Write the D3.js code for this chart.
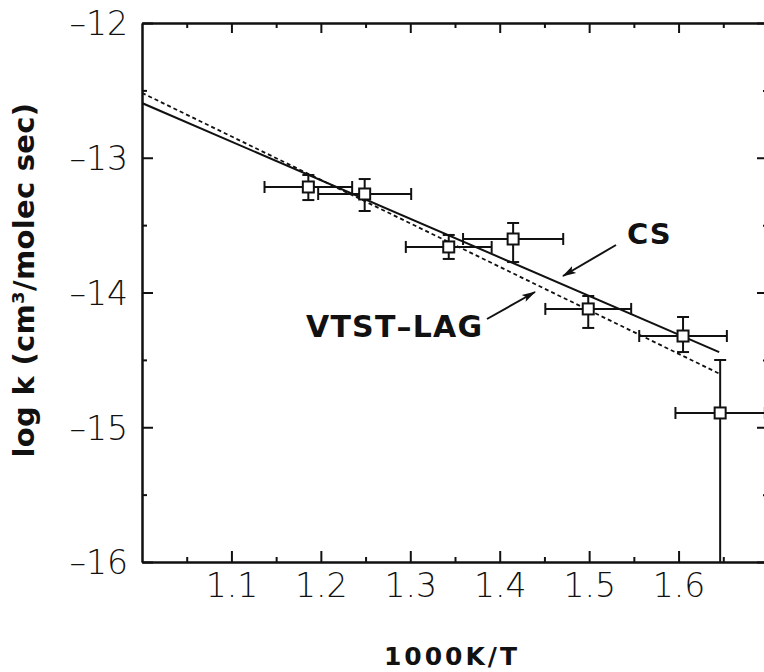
<!DOCTYPE html>
<html>
<head>
<meta charset="utf-8">
<script src="https://cdn.jsdelivr.net/npm/d3@7"></script>
<style>
  body { margin: 0; background: #fff; }
  svg { display: block; }
  .tick-label { font-family: "DejaVu Sans", sans-serif; font-weight: 200; font-size: 33px; }
  .bold { font-family: "DejaVu Sans", sans-serif; font-weight: bold; }
</style>
</head>
<body>
<svg width="764" height="672"></svg>
<script>
// measured points, 1000K/T and log k
var ptX    = [1.186, 1.249, 1.343, 1.415, 1.499, 1.605, 1.6465];
var ptY    = [-13.217, -13.269, -13.662, -13.603, -14.122, -14.323, -14.894];
var ptXerr = [0.049, 0.052, 0.048, 0.056, 0.048, 0.049, 0.05];
var ptYhi  = [-13.128, -13.158, -13.573, -13.484, -14.026, -14.182, -14.501];
var ptYlo  = [-13.314, -13.395, -13.751, -13.774, -14.263, -14.442, -16.3];

// model curves
var csX   = [1.0, 1.6454];
var csY   = [-12.594, -14.442];
var vtstX = [1.0, 1.6465];
var vtstY = [-12.519, -14.605];

var xMajor = [1.1, 1.2, 1.3, 1.4, 1.5, 1.6];
var xTickLabels = ["1.1", "1.2", "1.3", "1.4", "1.5", "1.6"];
var xMinor = [1.05, 1.15, 1.25, 1.35, 1.45, 1.55, 1.65];
var yMajor = [-16, -15, -14, -13, -12];
var yTickLabels = ["\u201316", "\u201315", "\u201314", "\u201313", "\u201312"];
var yMinor = [-15.5, -14.5, -13.5, -12.5];

var svg = d3.select("svg");
var pLeft = 142, pRight = 768, pTop = 23, pBottom = 562;

var x = d3.scaleLinear().domain([1.0, 1.7]).range([pLeft, pRight]);
var y = d3.scaleLinear().domain([-16, -12]).range([pBottom, pTop]);

svg.append("rect").attr("width", 764).attr("height", 672).attr("fill", "#fff");

var defs = svg.append("defs");
defs.append("clipPath").attr("id", "plot")
  .append("rect").attr("x", pLeft).attr("y", pTop)
  .attr("width", pRight - pLeft).attr("height", pBottom - pTop);

defs.append("marker")
    .attr("id", "head")
    .attr("viewBox", "0 0 14 10")
    .attr("refX", 13).attr("refY", 5)
    .attr("markerWidth", 7).attr("markerHeight", 5)
    .attr("markerUnits", "strokeWidth")
    .attr("orient", "auto")
  .append("path").attr("d", "M0,1 L14,5 L0,9 L3,5 Z").attr("fill", "#111");

// axes: major and minor ticks on all four sides, pointing inward
function styleAxis(g) {
  g.select(".domain").attr("stroke", "#111").attr("stroke-width", 2);
  g.selectAll(".tick line").attr("stroke", "#111").attr("stroke-width", 2);
}

var bottomMajor = svg.append("g").attr("transform", "translate(0," + pBottom + ")")
  .call(d3.axisBottom(x).tickValues(xMajor).tickSize(-11).tickSizeOuter(0).tickPadding(12)
    .tickFormat(function(d, i) { return xTickLabels[i]; }));
styleAxis(bottomMajor);
bottomMajor.selectAll("text").attr("class", "tick-label").attr("fill", "#111");

svg.append("g").attr("transform", "translate(0," + pBottom + ")")
  .call(d3.axisBottom(x).tickValues(xMinor).tickSize(-5).tickSizeOuter(0).tickFormat(""))
  .call(styleAxis);

svg.append("g").attr("transform", "translate(0," + pTop + ")")
  .call(d3.axisTop(x).tickValues(xMajor).tickSize(-10).tickSizeOuter(0).tickFormat(""))
  .call(styleAxis);
svg.append("g").attr("transform", "translate(0," + pTop + ")")
  .call(d3.axisTop(x).tickValues(xMinor).tickSize(-5).tickSizeOuter(0).tickFormat(""))
  .call(styleAxis);

var leftMajor = svg.append("g").attr("transform", "translate(" + pLeft + ",0)")
  .call(d3.axisLeft(y).tickValues(yMajor).tickSize(-11).tickSizeOuter(0).tickPadding(14)
    .tickFormat(function(d, i) { return yTickLabels[i]; }));
styleAxis(leftMajor);
leftMajor.selectAll("text").attr("class", "tick-label").attr("fill", "#111").attr("dy", "0.36em");

svg.append("g").attr("transform", "translate(" + pLeft + ",0)")
  .call(d3.axisLeft(y).tickValues(yMinor).tickSize(-5).tickSizeOuter(0).tickFormat(""))
  .call(styleAxis);

svg.append("g").attr("transform", "translate(" + pRight + ",0)")
  .call(d3.axisRight(y).tickValues(yMajor).tickSize(-11).tickSizeOuter(0).tickFormat(""))
  .call(styleAxis);
svg.append("g").attr("transform", "translate(" + pRight + ",0)")
  .call(d3.axisRight(y).tickValues(yMinor).tickSize(-5).tickSizeOuter(0).tickFormat(""))
  .call(styleAxis);

// curves
var plot = svg.append("g").attr("clip-path", "url(#plot)");
var line = d3.line().x(function(d) { return x(d[0]); }).y(function(d) { return y(d[1]); });

plot.append("path")
  .datum(vtstX.map(function(v, i) { return [v, vtstY[i]]; }))
  .attr("d", line).attr("fill", "none").attr("stroke", "#111")
  .attr("stroke-width", 1.8).attr("stroke-dasharray", "4,3");

plot.append("path")
  .datum(csX.map(function(v, i) { return [v, csY[i]]; }))
  .attr("d", line).attr("fill", "none").attr("stroke", "#111").attr("stroke-width", 2);

// error bars and squares
var pts = ptX.map(function(v, i) {
  return { x: v, y: ptY[i], xe: ptXerr[i], hi: ptYhi[i], lo: ptYlo[i] };
});
var cap = 6;
var bars = plot.selectAll("g.pt").data(pts).enter().append("g").attr("class", "pt")
  .attr("stroke", "#111").attr("stroke-width", 2);

bars.append("line")
  .attr("x1", function(d) { return x(d.x - d.xe); }).attr("x2", function(d) { return x(d.x + d.xe); })
  .attr("y1", function(d) { return y(d.y); }).attr("y2", function(d) { return y(d.y); });
bars.append("line")
  .attr("x1", function(d) { return x(d.x - d.xe); }).attr("x2", function(d) { return x(d.x - d.xe); })
  .attr("y1", function(d) { return y(d.y) - cap; }).attr("y2", function(d) { return y(d.y) + cap; });
bars.append("line")
  .attr("x1", function(d) { return x(d.x + d.xe); }).attr("x2", function(d) { return x(d.x + d.xe); })
  .attr("y1", function(d) { return y(d.y) - cap; }).attr("y2", function(d) { return y(d.y) + cap; });
bars.append("line")
  .attr("x1", function(d) { return x(d.x); }).attr("x2", function(d) { return x(d.x); })
  .attr("y1", function(d) { return y(d.hi); }).attr("y2", function(d) { return y(d.lo); });
bars.append("line")
  .attr("x1", function(d) { return x(d.x) - cap; }).attr("x2", function(d) { return x(d.x) + cap; })
  .attr("y1", function(d) { return y(d.hi); }).attr("y2", function(d) { return y(d.hi); });
bars.append("line")
  .attr("x1", function(d) { return x(d.x) - cap; }).attr("x2", function(d) { return x(d.x) + cap; })
  .attr("y1", function(d) { return y(d.lo); }).attr("y2", function(d) { return y(d.lo); });
bars.append("rect")
  .attr("x", function(d) { return x(d.x) - 5.5; }).attr("y", function(d) { return y(d.y) - 5.5; })
  .attr("width", 11).attr("height", 11).attr("fill", "#fff");

// labels with arrows
svg.append("text").attr("class", "bold").attr("x", 627).attr("y", 244)
  .attr("font-size", 29).attr("letter-spacing", 1).attr("fill", "#111").text("CS");
svg.append("line").attr("x1", 616).attr("y1", 245).attr("x2", 563).attr("y2", 276)
  .attr("stroke", "#111").attr("stroke-width", 2).attr("marker-end", "url(#head)");

svg.append("text").attr("class", "bold").attr("x", 306).attr("y", 337)
  .attr("font-size", 30).attr("letter-spacing", 1.2).attr("fill", "#111").text("VTST\u2013LAG");
svg.append("line").attr("x1", 487).attr("y1", 319).attr("x2", 535).attr("y2", 292)
  .attr("stroke", "#111").attr("stroke-width", 2).attr("marker-end", "url(#head)");

// axis titles
svg.append("text").attr("class", "bold").attr("x", 452).attr("y", 665)
  .attr("text-anchor", "middle").attr("font-size", 25).attr("letter-spacing", 3)
  .attr("fill", "#111").text("1000K/T");

svg.append("text").attr("class", "bold")
  .attr("transform", "translate(34,280) rotate(-90)")
  .attr("text-anchor", "middle").attr("font-size", 29).attr("letter-spacing", 0.3)
  .attr("fill", "#111").text("log k (cm\u00b3/molec sec)");
</script>
</body>
</html>
